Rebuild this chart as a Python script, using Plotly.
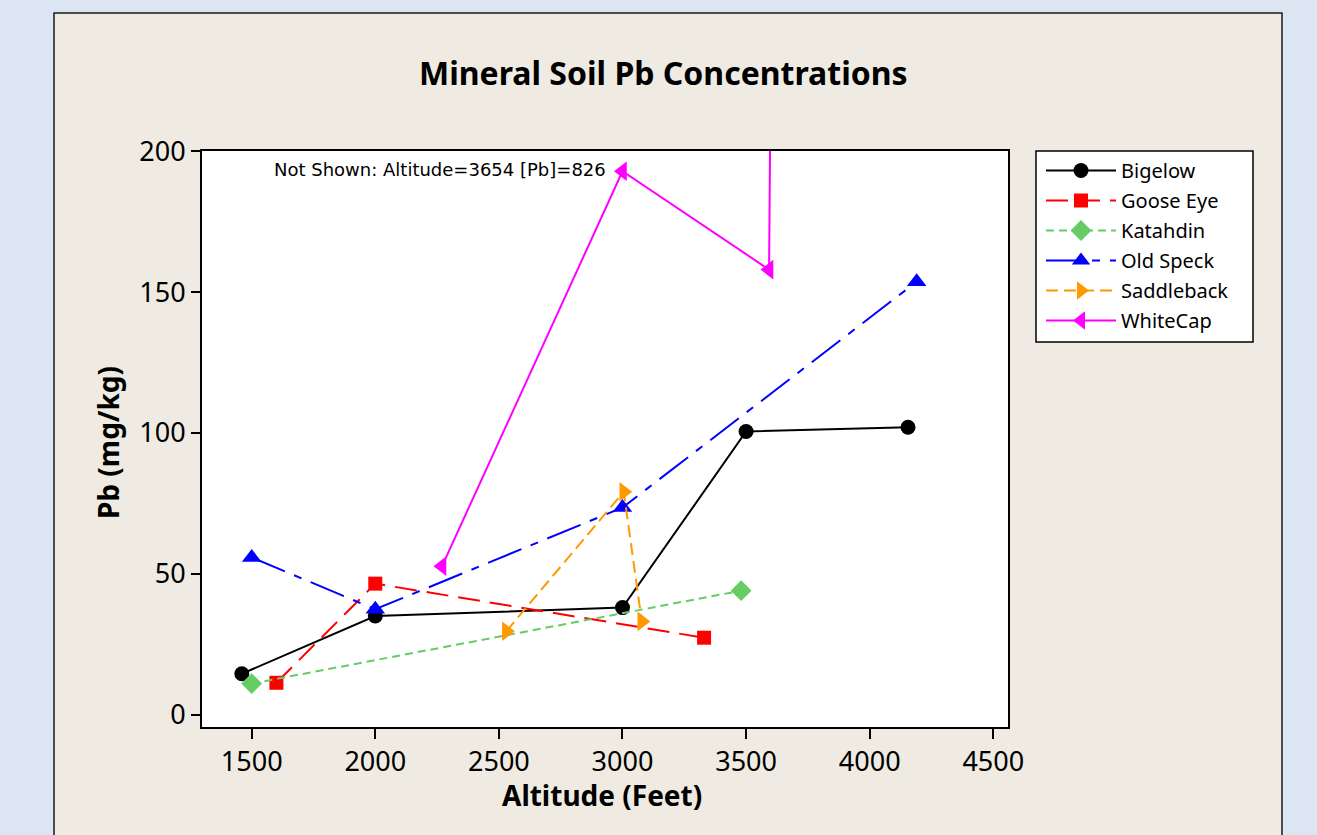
import plotly.graph_objects as go

# Pb concentration in mineral soil by sampling altitude, one series per mountain
bigelow_alt = [1460, 2000, 3000, 3500, 4155]
bigelow_pb = [14.5, 35.0, 38.0, 100.5, 102.0]

goose_alt = [1600, 2000, 3330]
goose_pb = [11.3, 46.5, 27.3]

katahdin_alt = [1500, 3480]
katahdin_pb = [11.0, 44.0]

oldspeck_alt = [1500, 2000, 3000, 4190]
oldspeck_pb = [55.8, 37.4, 73.5, 153.7]

saddleback_alt = [2530, 3005, 3078]
saddleback_pb = [29.6, 79.1, 33.1]

whitecap_alt = [2270, 3000, 3593, 3654]
whitecap_pb = [52.7, 192.9, 158.0, 826.0]

x_ticks = [1500, 2000, 2500, 3000, 3500, 4000, 4500]
y_ticks = [0, 50, 100, 150, 200]

series = [
    ("Bigelow", bigelow_alt, bigelow_pb, "#000000", "solid", "circle", 15),
    ("Goose Eye", goose_alt, goose_pb, "#ff0000", "22px,10px", "square", 14),
    ("Katahdin", katahdin_alt, katahdin_pb, "#66cc66", "8px,5px", "diamond", 16),
    ("Old Speck", oldspeck_alt, oldspeck_pb, "#0000ff", "36px,10px,8px,10px", "triangle-up", 17),
    ("Saddleback", saddleback_alt, saddleback_pb, "#ff9900", "12px,6px", "triangle-right", 17),
    ("WhiteCap", whitecap_alt, whitecap_pb, "#ff00ff", "solid", "triangle-left", 17),
]

fig = go.Figure()
for name, xs, ys, color, dash, symbol, size in series:
    fig.add_trace(go.Scatter(
        x=xs, y=ys, name=name, legendgroup=name, mode="lines+markers",
        line=dict(color=color, width=2, dash=dash),
        marker=dict(color=color, symbol=symbol, size=size, line=dict(width=0)),
        cliponaxis=True,
    ))

W, H = 1317, 835
L, R, T, B = 202, 309, 151, 108
pw, ph = W - L - R, H - T - B


def px_x(p):
    return (p - L) / pw


def px_y(p):
    return (H - B - p) / ph


tick_font = dict(family="Noto Sans", size=27, color="#000000")

fig.update_layout(
    width=W, height=H,
    margin=dict(l=L, r=R, t=T, b=B, pad=0),
    paper_bgcolor="#dce6f2",
    plot_bgcolor="rgba(0,0,0,0)",
    showlegend=True,
    legend=dict(
        x=px_x(1041), y=1.0, xanchor="left", yanchor="top",
        bgcolor="rgba(0,0,0,0)", borderwidth=0,
        font=dict(family="Noto Sans", size=20, color="#000000"),
        itemwidth=70, tracegroupgap=1,
    ),
    xaxis=dict(
        range=[1299, 4559.5], tickvals=x_ticks, ticks="outside", ticklen=10,
        tickwidth=1.5, tickcolor="#000000", showgrid=False, zeroline=False,
        showline=True, mirror=True, linecolor="#000000", linewidth=2,
        tickfont=tick_font,
    ),
    yaxis=dict(
        range=[-4.4, 200.1], tickvals=y_ticks, ticks="outside", ticklen=9,
        tickwidth=1.5, tickcolor="#000000", showgrid=False, zeroline=False,
        showline=True, mirror=True, linecolor="#000000", linewidth=2,
        tickfont=tick_font,
    ),
    shapes=[
        # beige chart panel with dark frame
        dict(type="rect", xref="paper", yref="paper", layer="below",
             x0=px_x(54), x1=px_x(1282), y0=px_y(845), y1=px_y(13),
             fillcolor="#efebe2", line=dict(color="#1a1a1a", width=1.5)),
        # white data region
        dict(type="rect", xref="paper", yref="paper", layer="below",
             x0=0, x1=1, y0=0, y1=1, fillcolor="#ffffff", line=dict(width=0)),
        # legend box
        dict(type="rect", xref="paper", yref="paper", layer="below",
             x0=px_x(1036), x1=px_x(1253), y0=px_y(342), y1=px_y(151),
             fillcolor="#ffffff", line=dict(color="#000000", width=1.5)),
    ],
    annotations=[
        dict(text="<b>Mineral Soil Pb Concentrations</b>", xref="paper", yref="paper",
             x=px_x(663), y=px_y(72), xanchor="center", yanchor="middle", showarrow=False,
             font=dict(family="Noto Sans", size=32, color="#000000")),
        dict(text="<b>Altitude (Feet)</b>", xref="paper", yref="paper",
             x=px_x(602), y=px_y(795), xanchor="center", yanchor="middle", showarrow=False,
             font=dict(family="Noto Sans", size=28, color="#000000")),
        dict(text="<b>Pb (mg/kg)</b>", xref="paper", yref="paper", textangle=-90,
             x=px_x(108), y=px_y(443), xanchor="center", yanchor="middle", showarrow=False,
             font=dict(family="Noto Sans", size=28, color="#000000")),
        dict(text="Not Shown: Altitude=3654 [Pb]=826", xref="paper", yref="paper",
             x=px_x(272), y=px_y(169), xanchor="left", yanchor="middle", showarrow=False,
             font=dict(family="DejaVu Sans", size=18, color="#000000")),
    ],
)

fig.write_html("out.html")
